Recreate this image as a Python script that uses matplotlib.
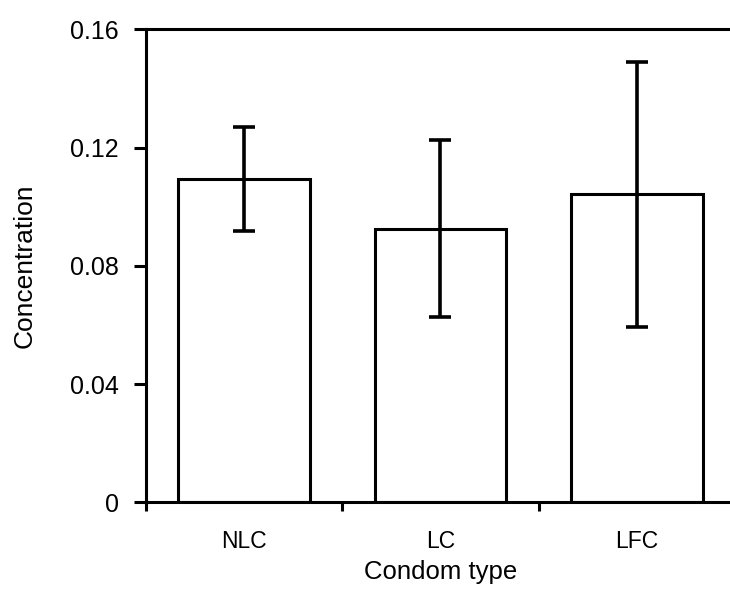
import matplotlib
matplotlib.use("Agg")
import matplotlib.pyplot as plt

categories = ["NLC", "LC", "LFC"]
means = [0.1093, 0.0925, 0.1042]
errors = [0.0176, 0.0299, 0.0448]
yticks = [0, 0.04, 0.08, 0.12, 0.16]
ytick_labels = ["0", "0.04", "0.08", "0.12", "0.16"]

plt.rcParams['font.family'] = ['Liberation Sans', 'DejaVu Sans']

fig = plt.figure(figsize=(7.30, 5.98), dpi=100)
ax = fig.add_axes([0.1996, 0.160, 0.8075, 0.791])

x = list(range(len(categories)))
ax.bar(x, means, width=0.67, color="white", edgecolor="black", linewidth=2.2, zorder=2)
ax.errorbar(x, means, yerr=errors, fmt="none", ecolor="black", elinewidth=2.6,
            capsize=8, capthick=2.6, zorder=3)

ax.set_xlim(-0.5, 2.5)
ax.set_ylim(0, 0.16)
ax.set_yticks(yticks)
ax.set_yticklabels(ytick_labels)
ax.set_xticks([-0.5, 0.5, 1.5])
ax.set_xticklabels([])
ax.set_xticks(x, minor=True)
ax.set_xticklabels(categories, minor=True)
ax.tick_params(axis="x", which="minor", length=0, pad=20, labelsize=16.5)
ax.tick_params(axis="x", which="major", length=6.5, width=2.2, direction="out")
ax.tick_params(axis="y", length=8.5, width=2.2, direction="out", pad=11, labelsize=18)

for s in ["left", "bottom", "top"]:
    ax.spines[s].set_linewidth(2.2)
ax.spines["right"].set_visible(False)

ax.set_ylabel("Concentration", fontsize=19, labelpad=24)
ax.set_xlabel("Condom type", fontsize=18.5, labelpad=5)

fig.savefig("out.png", dpi=100)
